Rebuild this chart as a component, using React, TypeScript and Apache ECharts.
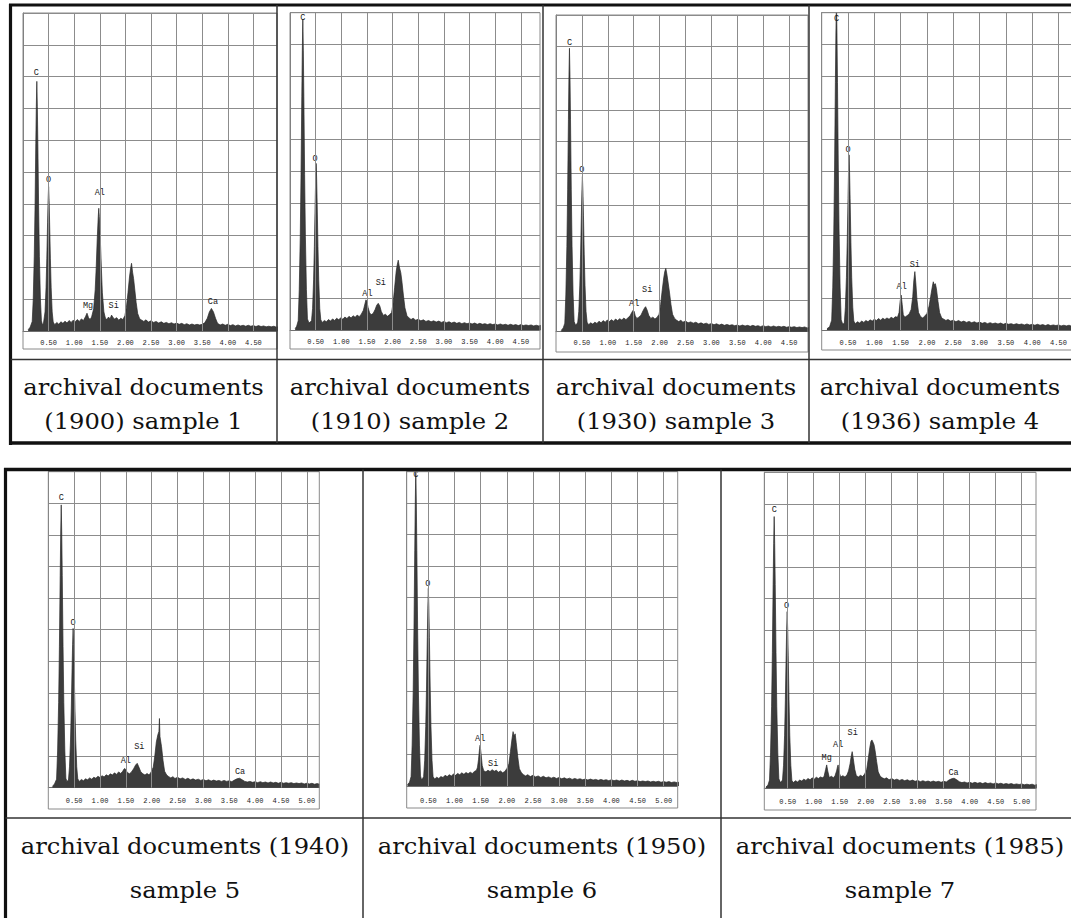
import React, { useEffect, useRef } from "react";
import * as echarts from "echarts";

// ---------- data ----------
const TICKS_TOP = [0.5, 1, 1.5, 2, 2.5, 3, 3.5, 4, 4.5];
const TICKS_BOTTOM = [0.5, 1, 1.5, 2, 2.5, 3, 3.5, 4, 4.5, 5];
const GRID_KEV = [0.5, 1, 1.5, 2, 2.5, 3, 3.5, 4, 4.5, 5];

const CAPTIONS_TOP = [
  ["archival documents", "(1900) sample 1"],
  ["archival documents", "(1910) sample 2"],
  ["archival documents", "(1930) sample 3"],
  ["archival documents", "(1936) sample 4"],
];
const CAPTIONS_BOTTOM = [
  ["archival documents (1940)", "sample 5"],
  ["archival documents (1950)", "sample 6"],
  ["archival documents (1985)", "sample 7"],
];

// spectra: [keV, counts in grid divisions (0-10)]
const SPECTRUM_1 = [[0.10,0.04],[0.14,0.12],[0.18,0.3],[0.20,1.0],[0.22,2.35],[0.235,3.9],[0.25,5.9],[0.26,7.05],[0.27,7.85],[0.28,7.05],[0.29,5.9],[0.305,3.9],[0.32,2.35],[0.34,1.0],[0.36,0.32],[0.38,0.2],[0.40,0.24],[0.43,0.6],[0.45,1.36],[0.465,2.27],[0.48,3.4],[0.49,4.1],[0.50,4.54],[0.51,4.1],[0.52,3.4],[0.535,2.27],[0.55,1.36],[0.57,0.6],[0.59,0.28],[0.62,0.2],[0.66,0.27],[0.70,0.21],[0.74,0.29],[0.78,0.24],[0.82,0.31],[0.86,0.25],[0.90,0.33],[0.94,0.27],[0.98,0.34],[1.02,0.29],[1.06,0.36],[1.10,0.3],[1.14,0.38],[1.18,0.33],[1.22,0.45],[1.25,0.56],[1.28,0.42],[1.31,0.36],[1.34,0.44],[1.38,0.7],[1.41,1.3],[1.43,2.0],[1.45,2.9],[1.47,3.6],[1.48,3.86],[1.49,3.6],[1.51,2.9],[1.53,2.0],[1.55,1.2],[1.58,0.6],[1.61,0.4],[1.64,0.36],[1.67,0.44],[1.70,0.38],[1.73,0.5],[1.76,0.42],[1.79,0.38],[1.83,0.42],[1.87,0.34],[1.91,0.4],[1.95,0.36],[1.99,0.48],[2.02,0.75],[2.05,1.2],[2.08,1.7],[2.10,1.95],[2.12,2.13],[2.14,1.85],[2.16,1.65],[2.18,1.35],[2.21,0.9],[2.24,0.55],[2.28,0.38],[2.32,0.34],[2.36,0.3],[2.40,0.35],[2.45,0.28],[2.50,0.32],[2.55,0.27],[2.60,0.3],[2.65,0.25],[2.70,0.29],[2.75,0.24],[2.80,0.27],[2.85,0.23],[2.90,0.26],[2.95,0.22],[3.00,0.25],[3.05,0.21],[3.10,0.24],[3.15,0.2],[3.20,0.23],[3.25,0.19],[3.30,0.22],[3.35,0.19],[3.40,0.21],[3.45,0.19],[3.50,0.21],[3.55,0.26],[3.60,0.4],[3.64,0.6],[3.68,0.71],[3.72,0.6],[3.76,0.4],[3.80,0.24],[3.85,0.19],[3.90,0.22],[3.95,0.18],[4.00,0.21],[4.05,0.17],[4.10,0.2],[4.15,0.16],[4.20,0.19],[4.25,0.16],[4.30,0.18],[4.35,0.15],[4.40,0.18],[4.45,0.15],[4.50,0.17],[4.55,0.14],[4.60,0.17],[4.65,0.14],[4.70,0.16],[4.75,0.13],[4.80,0.15],[4.85,0.13],[4.90,0.15],[4.95,0.12],[5.00,0.14]];

const SPECTRUM_2 = [[0.10,0.04],[0.13,0.12],[0.16,0.29],[0.18,1.27],[0.20,2.94],[0.215,4.9],[0.23,7.35],[0.24,8.82],[0.25,9.8],[0.26,8.82],[0.27,7.35],[0.285,4.9],[0.30,2.94],[0.32,1.27],[0.34,0.35],[0.37,0.22],[0.40,0.26],[0.42,0.3],[0.44,0.68],[0.46,1.58],[0.475,2.63],[0.49,3.94],[0.50,4.73],[0.51,5.25],[0.52,4.73],[0.53,3.94],[0.545,2.63],[0.56,1.58],[0.58,0.68],[0.60,0.32],[0.63,0.24],[0.67,0.3],[0.71,0.26],[0.75,0.33],[0.79,0.28],[0.83,0.35],[0.87,0.3],[0.91,0.37],[0.95,0.32],[0.99,0.39],[1.03,0.34],[1.07,0.41],[1.11,0.36],[1.15,0.43],[1.19,0.38],[1.23,0.45],[1.27,0.4],[1.31,0.47],[1.35,0.42],[1.39,0.5],[1.43,0.62],[1.46,0.82],[1.48,0.95],[1.50,0.9],[1.52,0.72],[1.55,0.55],[1.58,0.48],[1.62,0.52],[1.66,0.65],[1.69,0.78],[1.72,0.84],[1.75,0.76],[1.78,0.58],[1.82,0.46],[1.86,0.5],[1.90,0.43],[1.94,0.48],[1.98,0.55],[2.01,0.85],[2.04,1.35],[2.07,1.85],[2.09,2.05],[2.11,2.2],[2.13,2.0],[2.16,1.8],[2.18,1.55],[2.21,1.1],[2.24,0.7],[2.28,0.45],[2.32,0.38],[2.36,0.33],[2.40,0.37],[2.45,0.31],[2.50,0.34],[2.55,0.29],[2.60,0.32],[2.65,0.27],[2.70,0.3],[2.75,0.26],[2.80,0.29],[2.85,0.25],[2.90,0.28],[2.95,0.24],[3.00,0.27],[3.05,0.23],[3.10,0.26],[3.15,0.22],[3.20,0.25],[3.25,0.21],[3.30,0.24],[3.35,0.2],[3.40,0.23],[3.45,0.2],[3.50,0.22],[3.55,0.19],[3.60,0.22],[3.65,0.18],[3.70,0.21],[3.75,0.18],[3.80,0.2],[3.85,0.17],[3.90,0.2],[3.95,0.17],[4.00,0.19],[4.05,0.16],[4.10,0.19],[4.15,0.16],[4.20,0.18],[4.25,0.15],[4.30,0.18],[4.35,0.15],[4.40,0.17],[4.45,0.14],[4.50,0.17],[4.55,0.14],[4.60,0.16],[4.65,0.14],[4.70,0.16],[4.75,0.13],[4.80,0.15],[4.85,0.13],[4.90,0.15]];

const SPECTRUM_3 = [[0.10,0.04],[0.14,0.12],[0.17,0.27],[0.19,1.16],[0.21,2.69],[0.225,4.48],[0.24,6.71],[0.25,8.06],[0.26,8.95],[0.27,8.06],[0.28,6.71],[0.295,4.48],[0.31,2.69],[0.33,1.16],[0.35,0.32],[0.38,0.2],[0.40,0.24],[0.42,0.3],[0.44,0.64],[0.46,1.47],[0.475,2.45],[0.49,3.68],[0.50,4.41],[0.51,4.9],[0.52,4.41],[0.53,3.68],[0.545,2.45],[0.56,1.47],[0.58,0.64],[0.60,0.3],[0.63,0.22],[0.67,0.28],[0.71,0.24],[0.75,0.3],[0.79,0.26],[0.83,0.33],[0.87,0.28],[0.91,0.35],[0.95,0.3],[0.99,0.37],[1.03,0.32],[1.07,0.38],[1.11,0.33],[1.15,0.4],[1.19,0.35],[1.23,0.41],[1.27,0.37],[1.31,0.43],[1.35,0.38],[1.39,0.44],[1.43,0.5],[1.46,0.6],[1.49,0.68],[1.51,0.64],[1.53,0.5],[1.56,0.42],[1.60,0.46],[1.64,0.52],[1.68,0.66],[1.71,0.75],[1.73,0.79],[1.76,0.68],[1.79,0.52],[1.83,0.42],[1.87,0.46],[1.91,0.4],[1.95,0.45],[1.99,0.55],[2.02,0.85],[2.05,1.3],[2.08,1.7],[2.10,1.9],[2.12,2.0],[2.14,1.82],[2.16,1.6],[2.19,1.25],[2.22,0.85],[2.25,0.55],[2.29,0.42],[2.33,0.36],[2.37,0.32],[2.41,0.36],[2.45,0.3],[2.50,0.34],[2.55,0.28],[2.60,0.31],[2.65,0.27],[2.70,0.3],[2.75,0.25],[2.80,0.28],[2.85,0.24],[2.90,0.27],[2.95,0.23],[3.00,0.26],[3.05,0.22],[3.10,0.25],[3.15,0.21],[3.20,0.24],[3.25,0.2],[3.30,0.23],[3.35,0.2],[3.40,0.22],[3.45,0.19],[3.50,0.21],[3.55,0.18],[3.60,0.21],[3.65,0.18],[3.70,0.2],[3.75,0.17],[3.80,0.2],[3.85,0.17],[3.90,0.19],[3.95,0.16],[4.00,0.19],[4.05,0.16],[4.10,0.18],[4.15,0.15],[4.20,0.18],[4.25,0.15],[4.30,0.17],[4.35,0.15],[4.40,0.17],[4.45,0.14],[4.50,0.16],[4.55,0.14],[4.60,0.16],[4.65,0.13],[4.70,0.15],[4.75,0.13],[4.80,0.15],[4.85,0.12],[4.90,0.14]];

const SPECTRUM_4 = [[0.10,0.04],[0.15,0.1],[0.19,0.31],[0.21,1.35],[0.23,3.12],[0.245,5.2],[0.26,7.8],[0.27,9.36],[0.28,10.4],[0.29,9.36],[0.30,7.8],[0.315,5.2],[0.33,3.12],[0.35,1.35],[0.37,0.32],[0.40,0.18],[0.43,0.22],[0.45,0.72],[0.47,1.66],[0.485,2.76],[0.50,4.14],[0.51,4.97],[0.52,5.52],[0.53,4.97],[0.54,4.14],[0.555,2.76],[0.57,1.66],[0.59,0.72],[0.61,0.28],[0.64,0.2],[0.68,0.26],[0.72,0.22],[0.76,0.28],[0.80,0.24],[0.84,0.3],[0.88,0.26],[0.92,0.32],[0.96,0.28],[1.00,0.34],[1.04,0.3],[1.08,0.36],[1.12,0.31],[1.16,0.37],[1.20,0.33],[1.24,0.38],[1.28,0.34],[1.32,0.4],[1.36,0.36],[1.40,0.42],[1.44,0.4],[1.47,0.55],[1.49,0.9],[1.51,1.1],[1.53,0.8],[1.55,0.48],[1.58,0.4],[1.62,0.45],[1.66,0.5],[1.70,0.65],[1.73,1.05],[1.75,1.55],[1.77,1.84],[1.79,1.45],[1.81,0.95],[1.84,0.55],[1.88,0.42],[1.92,0.38],[1.96,0.44],[2.00,0.52],[2.04,0.75],[2.07,1.05],[2.10,1.35],[2.12,1.52],[2.14,1.42],[2.16,1.46],[2.18,1.3],[2.21,0.9],[2.24,0.55],[2.28,0.38],[2.32,0.34],[2.36,0.3],[2.40,0.33],[2.45,0.28],[2.50,0.31],[2.55,0.26],[2.60,0.3],[2.65,0.25],[2.70,0.28],[2.75,0.24],[2.80,0.27],[2.85,0.23],[2.90,0.26],[2.95,0.22],[3.00,0.25],[3.05,0.21],[3.10,0.24],[3.15,0.2],[3.20,0.23],[3.25,0.2],[3.30,0.22],[3.35,0.19],[3.40,0.22],[3.45,0.18],[3.50,0.21],[3.55,0.18],[3.60,0.2],[3.65,0.17],[3.70,0.2],[3.75,0.17],[3.80,0.19],[3.85,0.16],[3.90,0.19],[3.95,0.16],[4.00,0.18],[4.05,0.15],[4.10,0.18],[4.15,0.15],[4.20,0.17],[4.25,0.14],[4.30,0.17],[4.35,0.14],[4.40,0.16],[4.45,0.14],[4.50,0.16],[4.55,0.13],[4.60,0.15],[4.65,0.13],[4.70,0.15],[4.75,0.12]];

const SPECTRUM_5 = [[0.08,0.04],[0.12,0.12],[0.16,0.27],[0.18,1.16],[0.20,2.69],[0.215,4.48],[0.23,6.71],[0.24,8.06],[0.25,8.95],[0.26,8.06],[0.27,6.71],[0.285,4.48],[0.30,2.69],[0.32,1.16],[0.34,0.3],[0.36,0.2],[0.39,0.24],[0.41,0.66],[0.43,1.51],[0.445,2.52],[0.46,3.78],[0.47,4.54],[0.48,5.04],[0.49,4.54],[0.50,3.78],[0.515,2.52],[0.53,1.51],[0.55,0.66],[0.57,0.28],[0.60,0.2],[0.64,0.26],[0.68,0.22],[0.72,0.28],[0.76,0.25],[0.80,0.31],[0.84,0.27],[0.88,0.33],[0.92,0.3],[0.96,0.36],[1.00,0.32],[1.04,0.38],[1.08,0.34],[1.12,0.41],[1.16,0.37],[1.20,0.44],[1.24,0.4],[1.28,0.47],[1.32,0.42],[1.36,0.5],[1.40,0.45],[1.44,0.52],[1.46,0.58],[1.48,0.61],[1.50,0.56],[1.53,0.48],[1.57,0.44],[1.61,0.5],[1.65,0.6],[1.69,0.72],[1.72,0.77],[1.75,0.66],[1.79,0.5],[1.83,0.44],[1.87,0.4],[1.91,0.45],[1.95,0.4],[1.99,0.5],[2.03,0.65],[2.06,1.0],[2.09,1.45],[2.12,1.68],[2.14,1.78],[2.15,2.19],[2.16,1.62],[2.19,1.3],[2.22,0.85],[2.25,0.52],[2.29,0.4],[2.33,0.35],[2.37,0.31],[2.41,0.35],[2.45,0.29],[2.50,0.33],[2.55,0.28],[2.60,0.31],[2.65,0.26],[2.70,0.3],[2.75,0.25],[2.80,0.28],[2.85,0.24],[2.90,0.27],[2.95,0.23],[3.00,0.26],[3.05,0.22],[3.10,0.25],[3.15,0.21],[3.20,0.24],[3.25,0.21],[3.30,0.23],[3.35,0.2],[3.40,0.23],[3.45,0.2],[3.50,0.22],[3.55,0.19],[3.60,0.24],[3.65,0.28],[3.70,0.3],[3.75,0.25],[3.80,0.2],[3.85,0.18],[3.90,0.2],[3.95,0.17],[4.00,0.19],[4.05,0.16],[4.10,0.19],[4.15,0.16],[4.20,0.18],[4.25,0.15],[4.30,0.18],[4.35,0.15],[4.40,0.17],[4.45,0.14],[4.50,0.17],[4.55,0.14],[4.60,0.16],[4.65,0.14],[4.70,0.16],[4.75,0.13],[4.80,0.15],[4.85,0.13],[4.90,0.15],[4.95,0.12],[5.00,0.14],[5.05,0.12],[5.10,0.14],[5.15,0.11],[5.20,0.13],[5.25,0.11]];

const SPECTRUM_6 = [[0.10,0.04],[0.14,0.12],[0.17,0.3],[0.19,1.3],[0.21,3.0],[0.225,5.0],[0.24,7.5],[0.25,9.0],[0.26,10.1],[0.27,9.0],[0.28,7.5],[0.295,5.0],[0.31,3.0],[0.33,1.3],[0.35,0.32],[0.37,0.2],[0.39,0.24],[0.41,0.3],[0.43,0.82],[0.45,1.89],[0.465,3.15],[0.48,4.72],[0.49,5.66],[0.50,6.29],[0.51,5.66],[0.52,4.72],[0.535,3.15],[0.55,1.89],[0.57,0.82],[0.59,0.3],[0.62,0.22],[0.66,0.28],[0.70,0.24],[0.74,0.3],[0.78,0.27],[0.82,0.34],[0.86,0.3],[0.90,0.36],[0.94,0.32],[0.98,0.38],[1.02,0.34],[1.06,0.4],[1.10,0.36],[1.14,0.42],[1.18,0.37],[1.22,0.43],[1.26,0.39],[1.30,0.44],[1.34,0.4],[1.38,0.46],[1.42,0.5],[1.44,0.6],[1.46,0.85],[1.48,1.2],[1.49,1.3],[1.51,1.0],[1.53,0.65],[1.56,0.48],[1.60,0.45],[1.64,0.5],[1.68,0.46],[1.72,0.52],[1.76,0.47],[1.80,0.5],[1.84,0.44],[1.88,0.48],[1.92,0.42],[1.96,0.46],[2.00,0.55],[2.04,0.7],[2.07,1.1],[2.10,1.5],[2.12,1.73],[2.14,1.58],[2.16,1.66],[2.18,1.38],[2.21,0.92],[2.24,0.55],[2.28,0.42],[2.32,0.36],[2.36,0.32],[2.40,0.36],[2.45,0.3],[2.50,0.34],[2.55,0.29],[2.60,0.32],[2.65,0.27],[2.70,0.31],[2.75,0.26],[2.80,0.29],[2.85,0.25],[2.90,0.28],[2.95,0.24],[3.00,0.27],[3.05,0.23],[3.10,0.26],[3.15,0.22],[3.20,0.25],[3.25,0.21],[3.30,0.24],[3.35,0.21],[3.40,0.23],[3.45,0.2],[3.50,0.22],[3.55,0.19],[3.60,0.22],[3.65,0.19],[3.70,0.21],[3.75,0.18],[3.80,0.21],[3.85,0.18],[3.90,0.2],[3.95,0.17],[4.00,0.2],[4.05,0.17],[4.10,0.19],[4.15,0.16],[4.20,0.19],[4.25,0.16],[4.30,0.18],[4.35,0.15],[4.40,0.18],[4.45,0.15],[4.50,0.17],[4.55,0.14],[4.60,0.16],[4.65,0.14],[4.70,0.16],[4.75,0.13],[4.80,0.15],[4.85,0.13],[4.90,0.15],[4.95,0.12],[5.00,0.14],[5.05,0.12],[5.10,0.14],[5.15,0.11],[5.20,0.13],[5.25,0.11],[5.30,0.12]];

const SPECTRUM_7 = [[0.08,0.04],[0.12,0.1],[0.15,0.26],[0.17,1.12],[0.19,2.58],[0.205,4.3],[0.22,6.45],[0.23,7.74],[0.24,8.6],[0.25,7.74],[0.26,6.45],[0.275,4.3],[0.29,2.58],[0.31,1.12],[0.33,0.3],[0.36,0.18],[0.38,0.22],[0.40,0.26],[0.42,0.73],[0.44,1.68],[0.455,2.8],[0.47,4.19],[0.48,5.03],[0.49,5.59],[0.50,5.03],[0.51,4.19],[0.525,2.8],[0.54,1.68],[0.56,0.73],[0.58,0.25],[0.61,0.18],[0.65,0.24],[0.69,0.2],[0.73,0.26],[0.77,0.23],[0.81,0.29],[0.85,0.25],[0.89,0.31],[0.93,0.27],[0.97,0.33],[1.01,0.29],[1.05,0.35],[1.09,0.31],[1.13,0.36],[1.17,0.33],[1.20,0.38],[1.23,0.6],[1.25,0.74],[1.27,0.55],[1.30,0.34],[1.34,0.38],[1.38,0.33],[1.41,0.4],[1.44,0.55],[1.46,0.7],[1.47,0.74],[1.49,0.5],[1.52,0.36],[1.56,0.4],[1.60,0.36],[1.64,0.42],[1.67,0.55],[1.70,0.78],[1.72,1.0],[1.74,1.16],[1.76,0.95],[1.79,0.6],[1.82,0.4],[1.86,0.36],[1.90,0.41],[1.94,0.37],[1.98,0.45],[2.02,0.6],[2.05,0.95],[2.08,1.3],[2.10,1.48],[2.12,1.53],[2.14,1.46],[2.16,1.38],[2.18,1.2],[2.21,0.85],[2.24,0.52],[2.28,0.38],[2.32,0.33],[2.36,0.3],[2.40,0.33],[2.45,0.27],[2.50,0.31],[2.55,0.26],[2.60,0.29],[2.65,0.25],[2.70,0.28],[2.75,0.24],[2.80,0.27],[2.85,0.23],[2.90,0.26],[2.95,0.22],[3.00,0.25],[3.05,0.21],[3.10,0.24],[3.15,0.21],[3.20,0.23],[3.25,0.2],[3.30,0.23],[3.35,0.2],[3.40,0.22],[3.45,0.19],[3.50,0.22],[3.55,0.2],[3.60,0.26],[3.65,0.3],[3.70,0.32],[3.75,0.27],[3.80,0.21],[3.85,0.18],[3.90,0.2],[3.95,0.17],[4.00,0.19],[4.05,0.16],[4.10,0.19],[4.15,0.16],[4.20,0.18],[4.25,0.15],[4.30,0.18],[4.35,0.15],[4.40,0.17],[4.45,0.14],[4.50,0.17],[4.55,0.14],[4.60,0.16],[4.65,0.13],[4.70,0.15],[4.75,0.13],[4.80,0.15],[4.85,0.12],[4.90,0.14],[4.95,0.12],[5.00,0.14],[5.05,0.11],[5.10,0.13],[5.15,0.11],[5.20,0.13],[5.25,0.1],[5.30,0.12]];

// peak labels: [element, keV, label height in divisions]
const PEAKS_1 = [["C", 0.26, 8.1], ["O", 0.50, 4.75], ["Mg", 1.27, 0.8], ["Al", 1.50, 4.35], ["Si", 1.77, 0.8], ["Ca", 3.71, 0.92]];
const PEAKS_2 = [["C", 0.25, 9.82], ["O", 0.49, 5.38], ["Al", 1.51, 1.12], ["Si", 1.77, 1.49]];
const PEAKS_3 = [["C", 0.26, 9.13], ["O", 0.50, 5.1], ["Al", 1.51, 0.89], ["Si", 1.76, 1.32]];
const PEAKS_4 = [["C", 0.28, 9.79], ["O", 0.50, 5.67], ["Al", 1.52, 1.37], ["Si", 1.77, 2.05]];
const PEAKS_5 = [["C", 0.25, 9.16], ["O", 0.48, 5.22], ["Al", 1.50, 0.85], ["Si", 1.76, 1.28], ["Ca", 3.71, 0.51]];
const PEAKS_6 = [["C", 0.26, 9.89], ["O", 0.49, 6.43], ["Al", 1.49, 1.48], ["Si", 1.74, 0.70]];
const PEAKS_7 = [["C", 0.24, 8.81], ["O", 0.48, 5.77], ["Mg", 1.25, 0.95], ["Al", 1.47, 1.37], ["Si", 1.75, 1.74], ["Ca", 3.69, 0.47]];

// ---------- layout ----------
const PANELS = [
  { left: 23, top: 13, base: 331, width: 254, box: 349, labelY: 343, xmin: 0, xmax: 4.961, ticks: TICKS_TOP, data: SPECTRUM_1, peaks: PEAKS_1 },
  { left: 290, top: 12.7, base: 330, width: 250, box: 349, labelY: 342, xmin: 0, xmax: 4.873, ticks: TICKS_TOP, data: SPECTRUM_2, peaks: PEAKS_2 },
  { left: 556, top: 15, base: 331.7, width: 252, box: 352, labelY: 343, xmin: 0, xmax: 4.865, ticks: TICKS_TOP, data: SPECTRUM_3, peaks: PEAKS_3 },
  { left: 821.7, top: 12.7, base: 330, width: 252, box: 350, labelY: 343, xmin: 0, xmax: 4.737, ticks: TICKS_TOP, data: SPECTRUM_4, peaks: PEAKS_4 },
  { left: 48.3, top: 471.7, base: 787.7, width: 271, box: 809, labelY: 801, xmin: 0, xmax: 5.242, ticks: TICKS_BOTTOM, data: SPECTRUM_5, peaks: PEAKS_5 },
  { left: 406.7, top: 471.7, base: 786, width: 271, box: 808, labelY: 801.7, xmin: 0.086, xmax: 5.268, ticks: TICKS_BOTTOM, data: SPECTRUM_6, peaks: PEAKS_6 },
  { left: 764.3, top: 472.3, base: 788.3, width: 271.7, box: 810, labelY: 802.7, xmin: 0.05, xmax: 5.275, ticks: TICKS_BOTTOM, data: SPECTRUM_7, peaks: PEAKS_7 },
];

const MONO = '"Liberation Mono", "DejaVu Sans Mono", monospace';
const SERIF = '"DejaVu Serif", serif';
const GRID_COLOR = "#8c8c8c";

function buildOption() {
  const grid: any[] = [];
  const xAxis: any[] = [];
  const yAxis: any[] = [];
  const series: any[] = [];
  const elements: any[] = [];

  PANELS.forEach((p, i) => {
    grid.push({ left: p.left, top: p.top, width: p.width, height: p.base - p.top, containLabel: false });
    xAxis.push({
      gridIndex: i, type: "value", min: p.xmin, max: p.xmax,
      axisLine: { show: true, onZero: false, lineStyle: { color: "#6f6f6f", width: 1 } },
      axisTick: { show: false }, splitLine: { show: false },
      axisLabel: {
        show: true, customValues: p.ticks, formatter: (v: number) => Number(v).toFixed(2),
        fontFamily: MONO, fontSize: 7, color: "#222", margin: p.labelY - p.base - 4,
      },
    });
    yAxis.push({
      gridIndex: i, type: "value", min: 0, max: 10, interval: 1,
      axisLine: { show: true, lineStyle: { color: "#777", width: 1 } },
      axisTick: { show: false }, axisLabel: { show: false },
      splitLine: { show: true, lineStyle: { color: GRID_COLOR, width: 1 } },
    });
    series.push({
      type: "line", xAxisIndex: i, yAxisIndex: i, z: 1, silent: true,
      data: [[p.xmin, 0]], showSymbol: false, symbol: "none", lineStyle: { width: 0, opacity: 0 },
      markLine: {
        silent: true, symbol: ["none", "none"], label: { show: false }, animation: false,
        lineStyle: { color: GRID_COLOR, width: 1, type: "solid" },
        emphasis: { disabled: true },
        data: GRID_KEV.filter((x) => x > p.xmin && x < p.xmax).map((x) => ({ xAxis: x })),
      },
    });
    series.push({
      type: "line", xAxisIndex: i, yAxisIndex: i, z: 3, silent: true, clip: true,
      data: p.data, showSymbol: false, symbol: "none",
      lineStyle: { color: "#2a2a2a", width: 0.7 },
      areaStyle: { color: "#3c3c3c", opacity: 1 },
    });
    series.push({
      type: "scatter", xAxisIndex: i, yAxisIndex: i, z: 4, silent: true,
      data: p.peaks.map((pk: any) => ({ name: pk[0], value: [pk[1], pk[2]] })),
      symbolSize: 1, itemStyle: { color: "#ffffff", opacity: 0 },
      label: {
        show: true, position: "inside", formatter: "{b}", fontFamily: MONO, fontSize: 8.5,
        color: "#1a1a1a", textBorderWidth: 0, textBorderColor: "transparent", opacity: 1,
      },
    });
    elements.push({
      type: "rect", z: 5, silent: true,
      shape: { x: p.left, y: p.top, width: p.width, height: p.box - p.top },
      style: { fill: "none", stroke: "#8a8a8a", lineWidth: 1 },
    });
  });

  const line = (x1: number, y1: number, x2: number, y2: number, w: number, c = "#111") => ({
    type: "line", z: 20, silent: true, shape: { x1, y1, x2, y2 }, style: { stroke: c, lineWidth: w },
  });
  // top table
  elements.push(line(9, 5, 1075, 5, 3.2));
  elements.push(line(10.5, 4, 10.5, 445, 3.2));
  elements.push(line(9, 443, 1075, 443, 3.6));
  elements.push(line(10.5, 359.5, 1075, 359.5, 1.5, "#333"));
  [277, 543, 809].forEach((x) => elements.push(line(x, 5, x, 443, 1.5, "#333")));
  // bottom table
  elements.push(line(4, 469.5, 1075, 469.5, 3.6));
  elements.push(line(5.5, 468, 5.5, 920, 3.2));
  elements.push(line(5.5, 818, 1075, 818, 1.5, "#333"));
  [363, 721].forEach((x) => elements.push(line(x, 469.5, x, 920, 1.5, "#333")));

  const txt = (s: string, x: number, y: number) => ({
    type: "text", z: 20, silent: true, x, y, scaleX: 1.1,
    style: {
      text: s, x: 0, y: 0, fontFamily: SERIF, fontSize: 22, fill: "#111",
      align: "center", verticalAlign: "middle", textAlign: "center", textVerticalAlign: "middle",
    },
  });
  const topCenters = [143.5, 410, 676, 940];
  CAPTIONS_TOP.forEach((c, i) => {
    elements.push(txt(c[0], topCenters[i], 387));
    elements.push(txt(c[1], topCenters[i], 421));
  });
  const botCenters = [185, 542, 900];
  CAPTIONS_BOTTOM.forEach((c, i) => {
    elements.push(txt(c[0], botCenters[i], 846));
    elements.push(txt(c[1], botCenters[i], 890));
  });

  return {
    animation: false,
    backgroundColor: "#ffffff",
    grid, xAxis, yAxis, series,
    graphic: { elements },
  };
}

export default function App() {
  const ref = useRef<HTMLDivElement>(null);
  useEffect(() => {
    if (!ref.current) return;
    const chart = echarts.init(ref.current, null, { renderer: "svg" });
    chart.setOption(buildOption() as any);
    return () => chart.dispose();
  }, []);
  return (
    <div
      ref={ref}
      style={{ position: "absolute", left: 0, top: 0, width: 1071, height: 918, background: "#fff" }}
    />
  );
}
